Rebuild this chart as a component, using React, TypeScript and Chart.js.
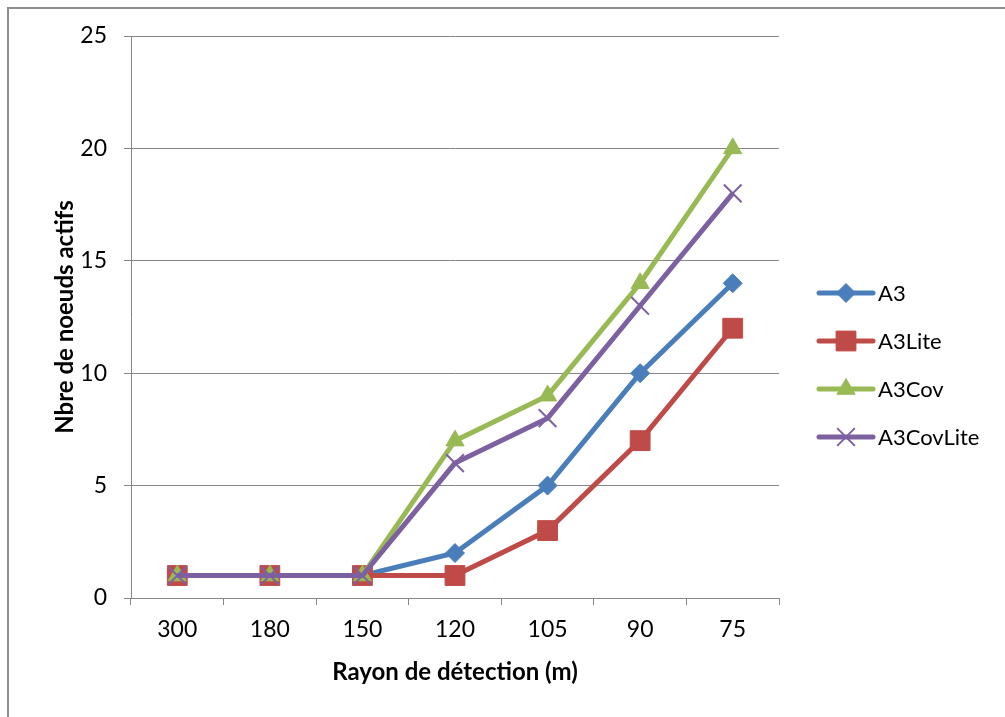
import React, { useEffect, useRef } from 'react';
import { Chart, registerables } from 'chart.js';

Chart.register(...registerables);

const categories = ['300', '180', '150', '120', '105', '90', '75'];
const a3 = [1, 1, 1, 2, 5, 10, 14];
const a3Lite = [1, 1, 1, 1, 3, 7, 12];
const a3Cov = [1, 1, 1, 7, 9, 14, 20];
const a3CovLite = [1, 1, 1, 6, 8, 13, 18];
const seriesNames = ['A3', 'A3Lite', 'A3Cov', 'A3CovLite'];
const yMin = 0;
const yMax = 25;
const yStep = 5;
const xTitle = 'Rayon de détection (m)';
const yTitle = 'Nbre de noeuds actifs';

const colors = ['#4A7EBB', '#BE4B48', '#98B954', '#7D60A0'];
const pointStyles = ['rectRot', 'rect', 'triangle', 'crossRot'];
const pointRadii = [9.5, 14, 10.5, 12.5];
const FONT = 'Lato, "Open Sans", sans-serif';
const GRID = '#868686';

function drawMarker(ctx: CanvasRenderingContext2D, style: string, x: number, y: number, r: number, color: string) {
  ctx.save();
  ctx.fillStyle = color;
  ctx.strokeStyle = color;
  ctx.lineWidth = style === 'crossRot' ? 2 : 1;
  ctx.beginPath();
  if (style === 'rectRot') {
    ctx.moveTo(x - r, y);
    ctx.lineTo(x, y - r);
    ctx.lineTo(x + r, y);
    ctx.lineTo(x, y + r);
    ctx.closePath();
    ctx.fill();
    ctx.stroke();
  } else if (style === 'rect') {
    const s = r * Math.SQRT1_2;
    ctx.rect(x - s, y - s, 2 * s, 2 * s);
    ctx.fill();
    ctx.stroke();
  } else if (style === 'triangle') {
    ctx.moveTo(x, y - r);
    ctx.lineTo(x + r * Math.sin(Math.PI / 3), y + r * 0.5);
    ctx.lineTo(x - r * Math.sin(Math.PI / 3), y + r * 0.5);
    ctx.closePath();
    ctx.fill();
    ctx.stroke();
  } else {
    const s = r * Math.SQRT1_2;
    ctx.moveTo(x - s, y - s);
    ctx.lineTo(x + s, y + s);
    ctx.moveTo(x + s, y - s);
    ctx.lineTo(x - s, y + s);
    ctx.stroke();
  }
  ctx.restore();
}

const sideLegend = {
  id: 'sideLegend',
  afterDraw(chart: any) {
    const ctx: CanvasRenderingContext2D = chart.ctx;
    chart.data.datasets.forEach((ds: any, i: number) => {
      const y = 293 + i * 48;
      ctx.save();
      ctx.strokeStyle = ds.borderColor;
      ctx.lineWidth = 5;
      ctx.lineCap = 'round';
      ctx.beginPath();
      ctx.moveTo(819, y);
      ctx.lineTo(873, y);
      ctx.stroke();
      ctx.restore();
      drawMarker(ctx, pointStyles[i], 846, y, pointRadii[i], ds.borderColor);
      ctx.save();
      ctx.fillStyle = '#000';
      ctx.font = `22px ${FONT}`;
      ctx.textAlign = 'left';
      ctx.textBaseline = 'middle';
      ctx.fillText(ds.label, 878, y + 1);
      ctx.restore();
    });
  },
};

export default function App() {
  const ref = useRef<HTMLCanvasElement | null>(null);

  useEffect(() => {
    if (!ref.current) return;
    const series = [a3, a3Lite, a3Cov, a3CovLite];
    const chart = new Chart(ref.current, {
      type: 'line',
      data: {
        labels: categories,
        datasets: series.map((d, i) => ({
          label: seriesNames[i],
          data: d,
          borderColor: colors[i],
          backgroundColor: colors[i],
          borderWidth: 5,
          tension: 0,
          pointStyle: pointStyles[i] as any,
          pointRadius: pointRadii[i],
          pointHoverRadius: pointRadii[i],
          pointBorderWidth: i === 3 ? 2 : 1,
          pointBackgroundColor: colors[i],
          pointBorderColor: colors[i],
          order: 4 - i,
          fill: false,
        })),
      },
      options: {
        responsive: false,
        animation: false,
        events: [],
        layout: { padding: { left: 8, top: 36, right: 226, bottom: 0 } },
        plugins: {
          legend: { display: false },
          tooltip: { enabled: false },
        },
        scales: {
          x: {
            type: 'category',
            offset: true,
            grid: {
              offset: true,
              drawOnChartArea: false,
              drawTicks: true,
              tickLength: 7,
              color: GRID,
              lineWidth: 1,
            },
            border: { color: GRID, width: 1 },
            ticks: {
              color: '#000',
              font: { family: FONT, size: 23 },
              padding: 11,
              maxRotation: 0,
            },
            title: {
              display: true,
              text: xTitle,
              color: '#000',
              font: { family: FONT, size: 24, weight: 'bold' },
              padding: { top: 0, bottom: 30.6 },
            },
            afterFit: (s: any) => {
              s.height = 717 - 598;
            },
          },
          y: {
            min: yMin,
            max: yMax,
            grid: {
              color: GRID,
              lineWidth: 1,
              drawTicks: true,
              tickLength: 7,
            },
            border: { color: GRID, width: 1 },
            ticks: {
              stepSize: yStep,
              color: '#000',
              font: { family: FONT, size: 23 },
              padding: 17,
            },
            title: {
              display: true,
              text: yTitle,
              color: '#000',
              font: { family: FONT, size: 24, weight: 'bold' },
              padding: { top: 42.6, bottom: 0 },
            },
            afterFit: (s: any) => {
              s.width = 131 - 8;
            },
          },
        },
      },
      plugins: [sideLegend],
    });
    return () => chart.destroy();
  }, []);

  return (
    <div style={{ position: 'fixed', left: 0, top: 0, width: 1005, height: 717, overflow: 'hidden', background: '#fff' }}>
      <div
        style={{
          position: 'absolute',
          left: 7,
          top: 7,
          width: 2000,
          height: 2000,
          borderTop: '2px solid #8e8e8e',
          borderLeft: '2px solid #8e8e8e',
          boxSizing: 'border-box',
        }}
      />
      <canvas ref={ref} width={1005} height={717} style={{ position: 'absolute', left: 0, top: 0, width: 1005, height: 717 }} />
    </div>
  );
}
